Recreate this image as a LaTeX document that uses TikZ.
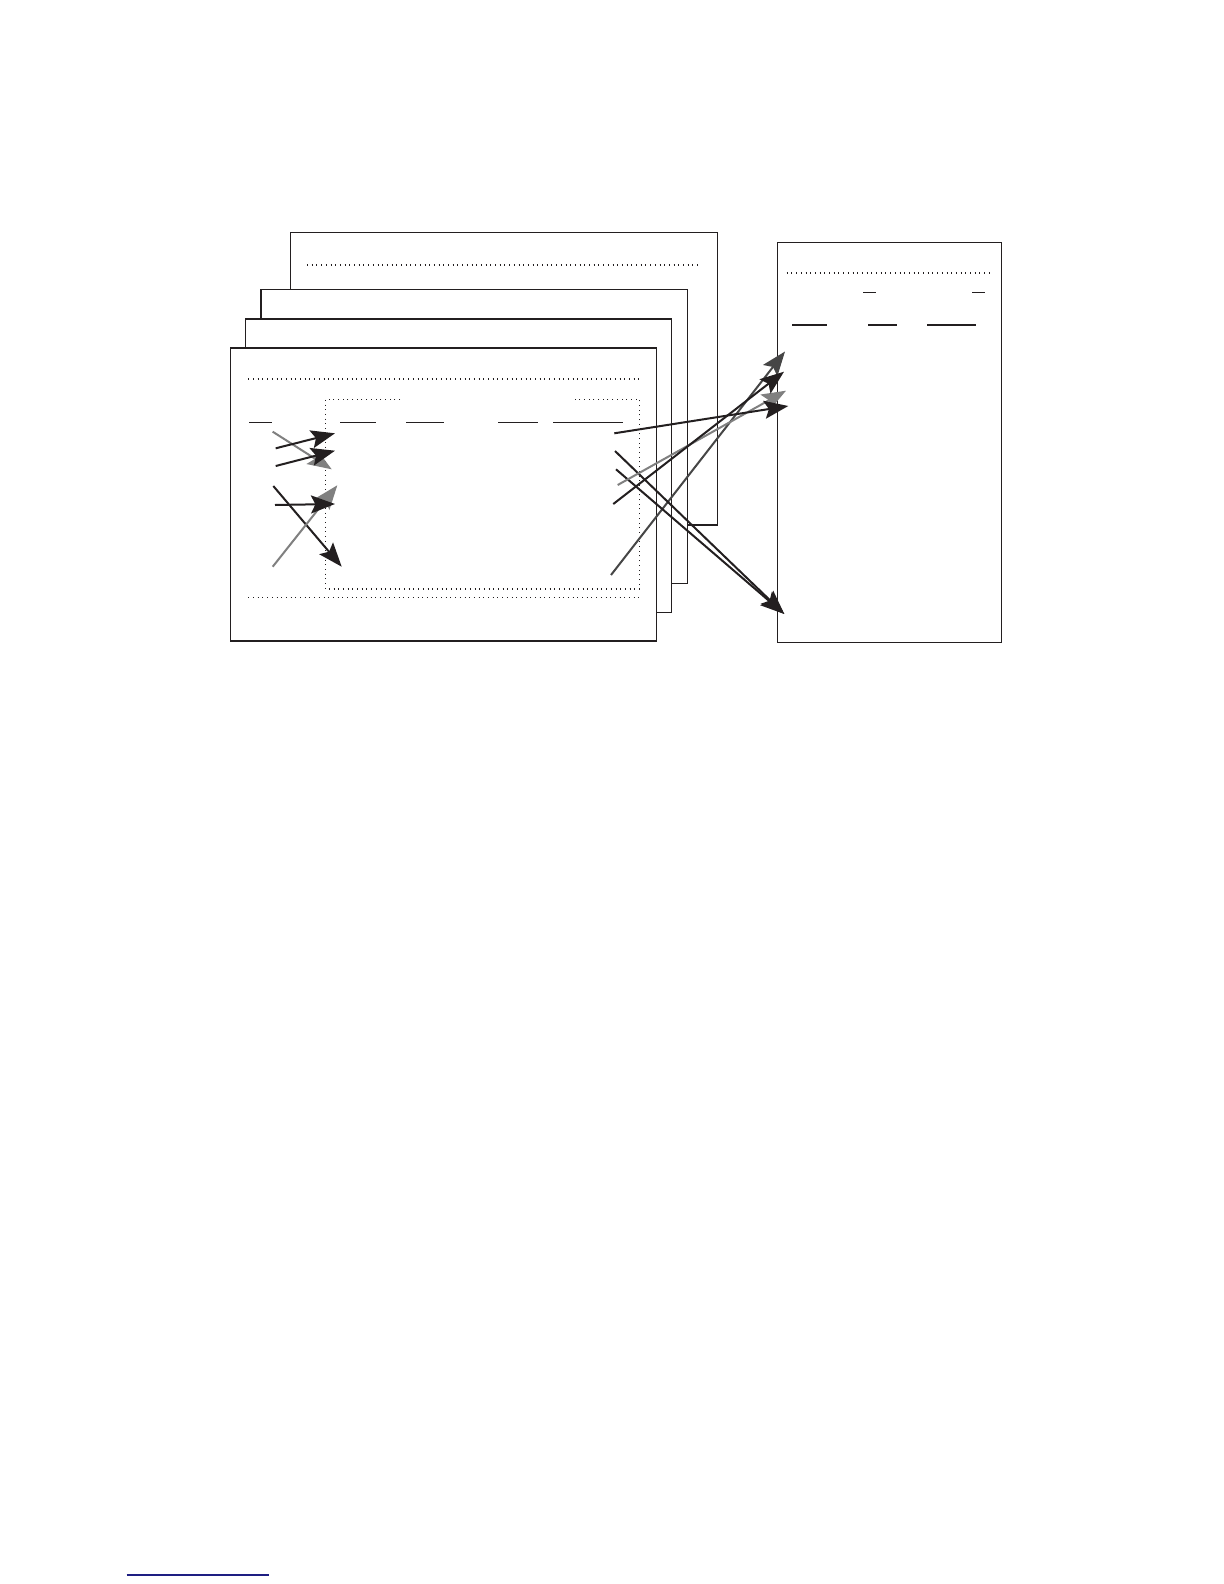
\documentclass[tikz,border=0pt]{standalone}
\usetikzlibrary{arrows.meta}

\definecolor{inkblack}{RGB}{35,31,32}
\definecolor{inkgray}{RGB}{128,128,128}
\definecolor{inkdark}{RGB}{70,70,70}
\definecolor{rulenavy}{RGB}{30,30,130}

\tikzset{every picture/.style={line width=0.75pt}}
\tikzset{
  card/.style={draw=inkblack, fill=white, line width=0.7pt},
  dotline/.style={draw=inkblack, line width=0.55pt, dash pattern=on 0.5pt off 1.85pt},
  field/.style={draw=inkblack, line width=0.6pt},
  link/.style={line width=1pt, -{Stealth[length=12pt,width=9pt,inset=2.2pt]}},
}

\begin{document}
\begin{tikzpicture}[x=0.5pt,y=0.5pt,yscale=-1,xscale=1]
	\useasboundingbox (0,0) rectangle (1224,1584); %page of 1224 x 1584

	%Shape: Rectangle [back card]
	\draw [card] (290.3,232.3) rectangle (717.5,525) ;
	%Straight Lines [back card dots]
	\draw [dotline] (307,265) -- (700,265) ;
	%Shape: Rectangle [third card]
	\draw [card] (261,289.3) rectangle (687.5,583.3) ;
	%Shape: Rectangle [second card]
	\draw [card] (245.3,319) rectangle (671.5,612.3) ;
	%Shape: Rectangle [front card]
	\draw [card] (230.3,348) rectangle (656.7,641) ;
	%Straight Lines [front card dots]
	\draw [dotline] (248.3,379) -- (640,379) ;
	\draw [dotline] (248.3,597.3) -- (640,597.3) ;
	%Shape: inner dotted frame, open at the top
	\draw [dotline] (400,399.3) -- (325.3,399.3) -- (325.3,589) -- (639.3,589) -- (639.3,399.3) -- (572.7,399.3) ;
	%Straight Lines [front card fields]
	\draw [field] (249,422.7) -- (272,422.7) ;
	\draw [field] (340,422.7) -- (376,422.7) ;
	\draw [field] (406,422.7) -- (443.7,422.7) ;
	\draw [field] (498.3,422.7) -- (537.7,422.7) ;
	\draw [field] (553.3,422.7) -- (622.7,422.7) ;

	%Shape: Rectangle [target card]
	\draw [card] (777.3,242.3) rectangle (1001.7,642.3) ;
	%Straight Lines [target card dots and fields]
	\draw [dotline] (786.7,273) -- (991.7,273) ;
	\draw [field] (863.3,292.7) -- (876,292.7) ;
	\draw [field] (972.3,292.7) -- (985,292.7) ;
	\draw [field] (792.3,325) -- (827,325) ;
	\draw [field] (868,325) -- (897,325) ;
	\draw [field] (927,325) -- (976,325) ;

	% end points of the links
	\coordinate (l1) at (275.7,448.3) ; \coordinate (m1) at (335,433.3) ;
	\coordinate (l2) at (275.7,466) ;   \coordinate (m2) at (335,450.7) ;
	\coordinate (l3) at (272.7,431.7) ; \coordinate (m3) at (331.7,469.3) ;
	\coordinate (l4) at (275,505) ;     \coordinate (m4) at (335,504) ;
	\coordinate (l5) at (272.7,566.7) ; \coordinate (m5) at (337.3,485.3) ;
	\coordinate (l6) at (273.3,486) ;   \coordinate (m6) at (341.7,566.7) ;

	\coordinate (r1) at (614.3,433.3) ; \coordinate (t1) at (788.3,406) ;
	\coordinate (r2) at (615,451) ;     \coordinate (t2) at (784.3,614) ;
	\coordinate (r3) at (616,469.3) ;   \coordinate (t3) at (784.3,614) ;
	\coordinate (r4) at (617.7,485) ;   \coordinate (t4) at (786,390.7) ;
	\coordinate (r5) at (613.3,504) ;   \coordinate (t5) at (784,371.7) ;
	\coordinate (r6) at (611,575) ;     \coordinate (t6) at (785,351.5) ;

	%Straight Lines [links inside the front card]
	\draw [link, draw=inkgray, fill=inkgray] (l3) -- (m3) ;
	\draw [link, draw=inkblack, fill=inkblack] (l1) -- (m1) ;
	\draw [link, draw=inkblack, fill=inkblack] (l2) -- (m2) ;
	\draw [link, draw=inkblack, fill=inkblack] (l6) -- (m6) ;
	\draw [link, draw=inkgray, fill=inkgray] (l5) -- (m5) ;
	\draw [link, draw=inkblack, fill=inkblack] (l4) -- (m4) ;

	%Straight Lines [links to the target card]
	\draw [link, draw=inkdark, fill=inkdark] (r6) -- (t6) ;
	\draw [link, draw=inkblack, fill=inkblack] (r2) -- (t2) ;
	\draw [link, draw=inkblack, fill=inkblack] (r3) -- (t3) ;
	\draw [link, draw=inkgray, fill=inkgray] (r4) -- (t4) ;
	\draw [link, draw=inkblack, fill=inkblack] (r5) -- (t5) ;
	\draw [link, draw=inkblack, fill=inkblack] (r1) -- (t1) ;

	%Straight Lines [footnote rule]
	\draw [draw=rulenavy, line width=1pt] (126.7,1575) -- (269,1575) ;

\end{tikzpicture}
\end{document}
